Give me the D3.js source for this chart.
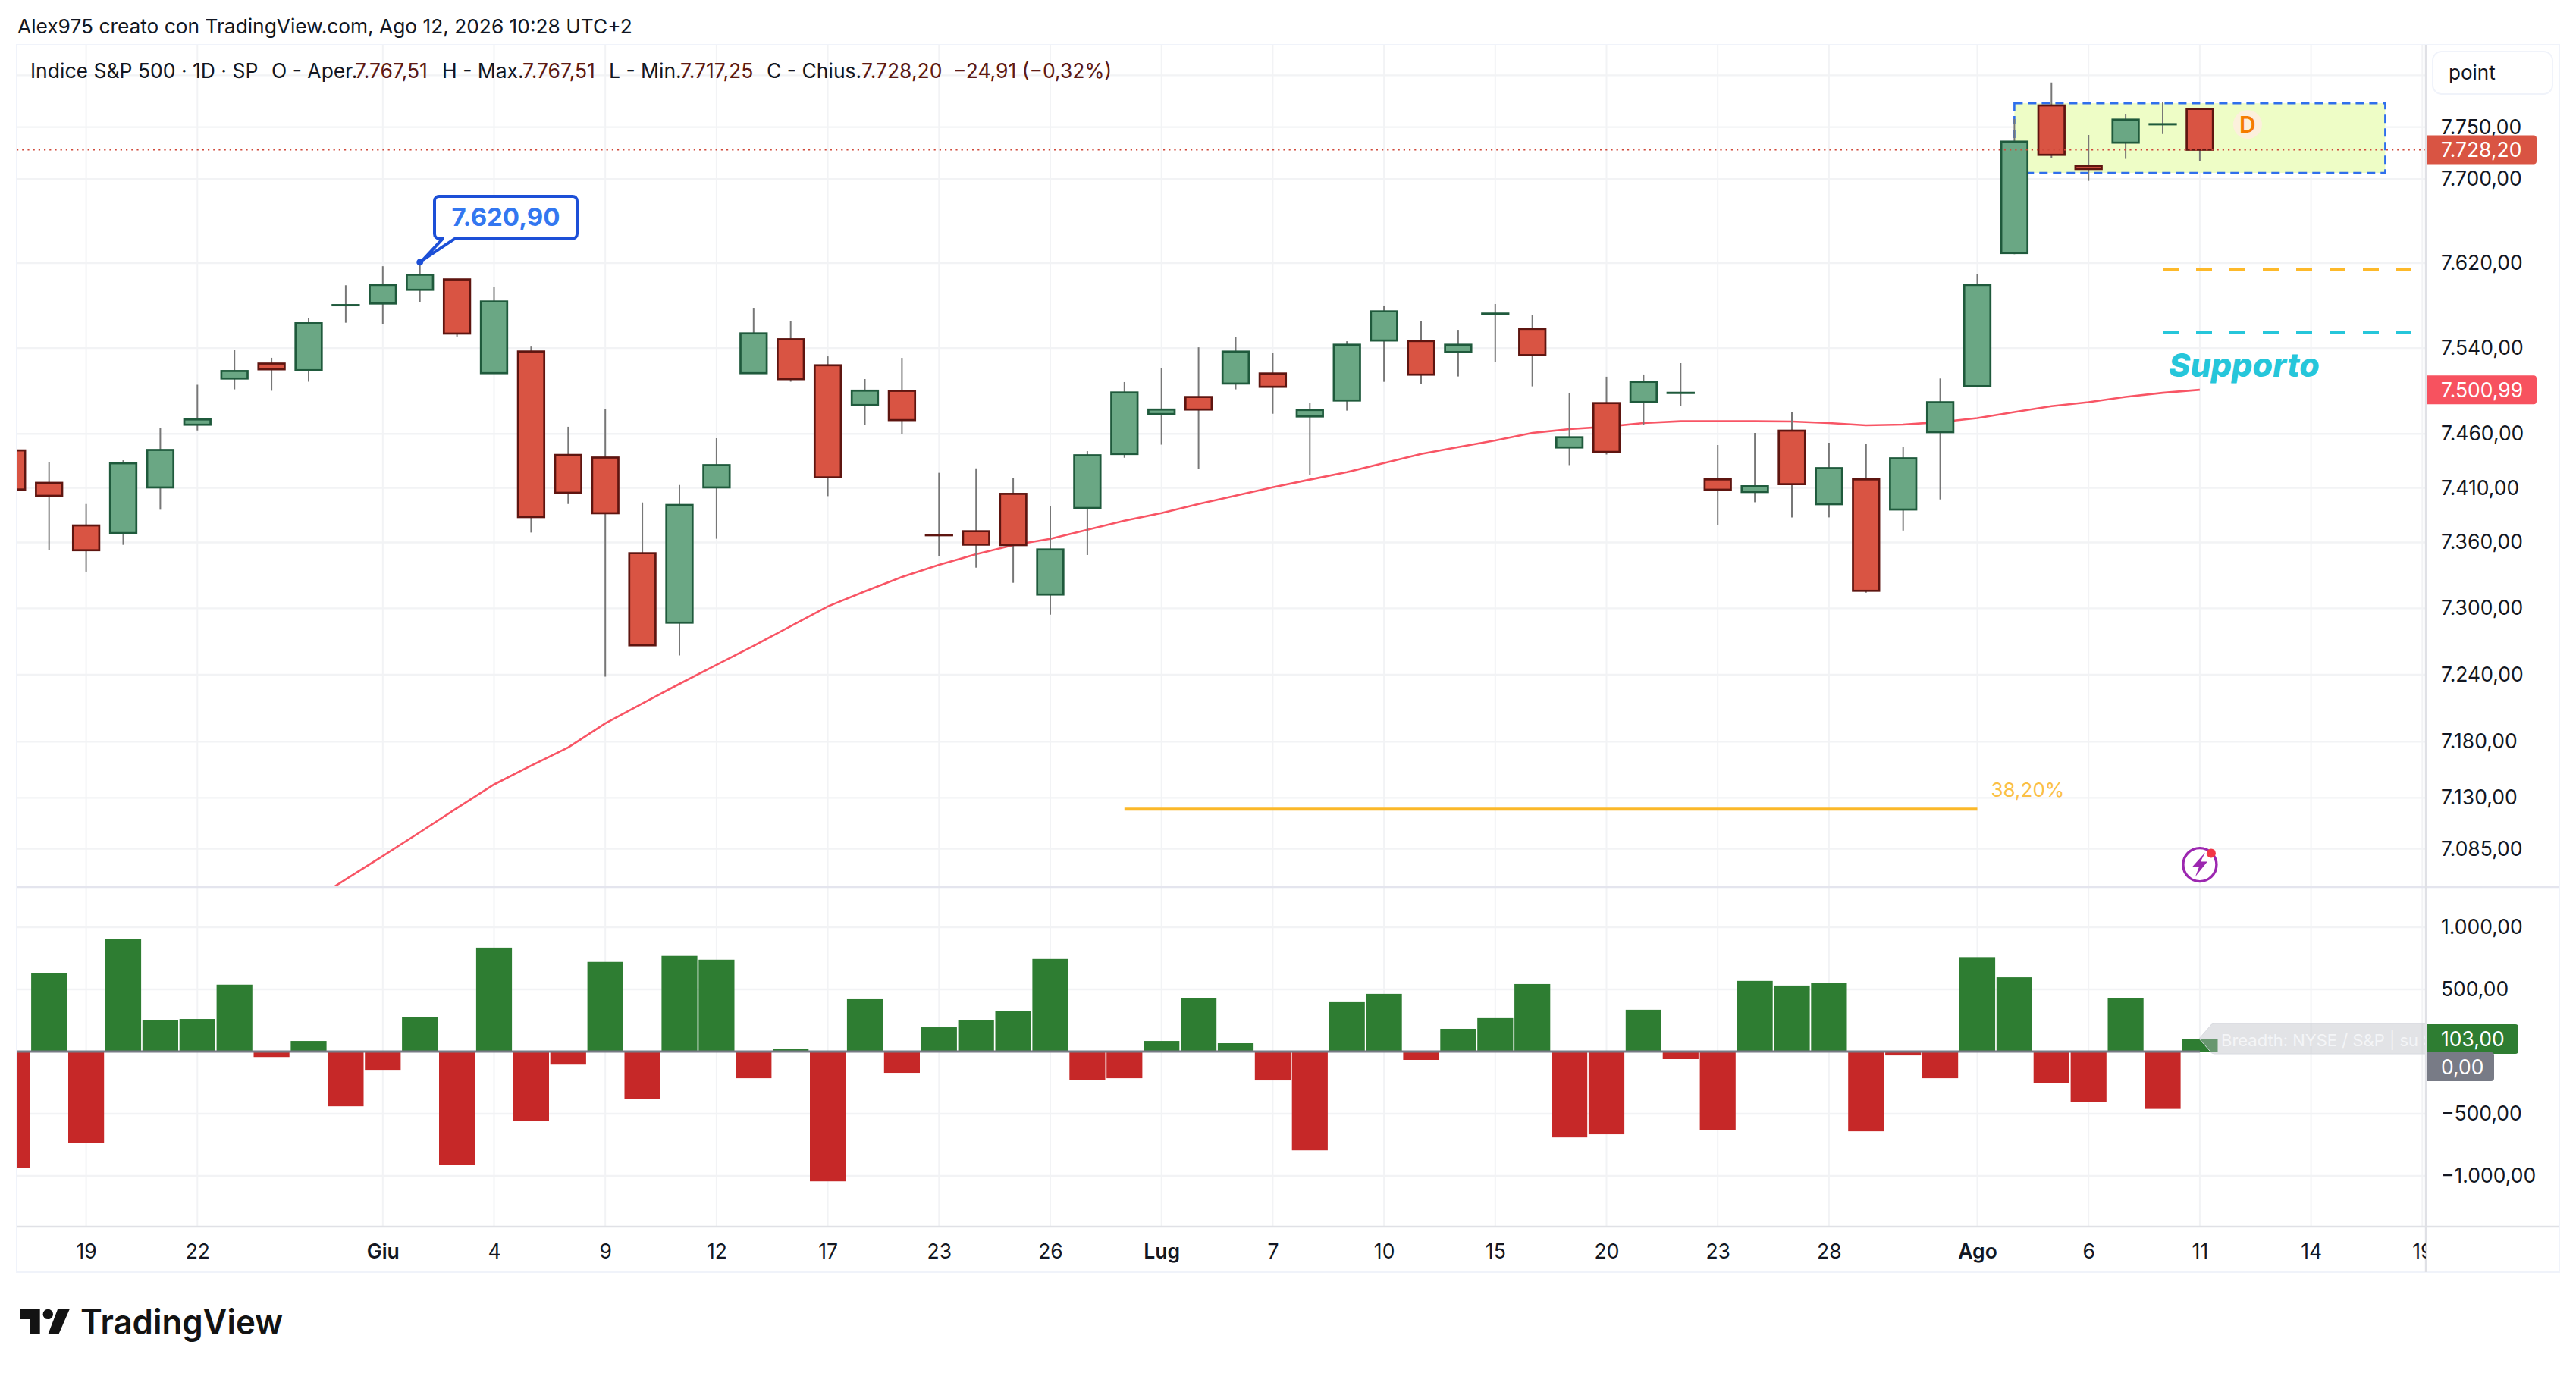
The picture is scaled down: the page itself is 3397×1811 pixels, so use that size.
<!DOCTYPE html>
<html>
<head>
<meta charset="utf-8">
<title>Indice S&P 500</title>
<script src="https://cdnjs.cloudflare.com/ajax/libs/d3/7.8.5/d3.min.js"></script>
<style>
  html, body { margin: 0; padding: 0; background: #fff; }
  svg { display: block; }
  text { font-family: Inter, "Noto Sans", sans-serif; fill: #131722; }
</style>
</head>
<body>
<script>
// values, one entry per daily bar
var openP = [7444.7,7414.7,7375.6,7368.6,7410.5,7468.5,7511.5,7525.5,7519.3,7580.2,
  7581.9,7594.8,7604.6,7516.5,7536.8,7440.5,7438.1,7350.2,7287,7410.5,
  7516.5,7548.3,7523.9,7486.8,7500,7366.8,7370.3,7404.6,7312.5,7391.6,
  7441.4,7478.4,7494.3,7506.8,7516.2,7476.2,7491,7547.1,7546.6,7536.3,
  7572.2,7558,7447.4,7488.6,7489.6,7498,7417.9,7406.3,7463,7395.1,
  7417.9,7390.2,7461.6,7504.4,7629.6,7770.9,7712.7,7735,7752.6,7767.51];
var closeP = [7408.6,7402.8,7352.9,7432.8,7445.1,7473.4,7518.5,7520.1,7563.3,7580.4,
  7599.4,7609,7553.6,7583.8,7383.3,7405.6,7386.8,7266.5,7394.4,7431.1,
  7553.8,7510.9,7419.8,7500.2,7472.8,7366.6,7358,7357.6,7353.6,7440.2,
  7498.5,7482.6,7482.6,7536.7,7503.8,7482.2,7543.1,7574.5,7515.1,7543.1,
  7572.4,7533.4,7456.9,7443.3,7508.4,7498.2,7408.4,7411.6,7413.5,7428.3,
  7315.9,7437.4,7489.4,7599.4,7736,7723.3,7709.7,7757.2,7752.8,7728.2];
var highP = [7450,7433.7,7395.3,7435.6,7465.8,7505.7,7538.6,7530.9,7568.6,7599.1,
  7617.1,7620.9,7604.6,7597.8,7541.4,7466.6,7482.8,7396.7,7412.8,7456,
  7577.8,7565,7532.2,7511,7530.8,7424,7428.1,7419,7393.2,7444,
  7508.2,7521.6,7540.7,7550.7,7535.8,7488.4,7546.4,7580,7565,7557.1,
  7581.4,7570.7,7498.3,7513.2,7515.3,7525.9,7449.7,7460.9,7480.5,7451.8,
  7450.4,7448.3,7511.5,7610,7757.8,7793.1,7742.4,7762.8,7773.9,7767.51];
var lowP = [7400,7352.9,7333.4,7357.8,7390,7463.2,7501.4,7500.1,7508.5,7563.8,
  7562.2,7583,7550.8,7516,7369.1,7395.3,7238.2,7266,7257.3,7363.4,
  7516,7508.5,7402.5,7468.2,7459.7,7347.4,7337,7323.2,7294.3,7348.6,
  7437.9,7450,7427.6,7501.4,7478.7,7422.1,7481.6,7508.4,7506.3,7513.4,
  7526.8,7504.2,7431.1,7440.9,7468.2,7485.8,7376,7396.9,7383,7383,
  7314.2,7370.9,7399.5,7504,7628.5,7720.2,7698.3,7719.4,7743.3,7717.25];

// 50 day average, starts at bar 8 (below the pane until bar 9)
var maStart = 8;
var maValues = [7037.5,7058.1,7078.7,7099.6,7121,7141.9,7158.7,7174.8,7196.4,7214.2,
  7231.8,7248.9,7266,7283.8,7301.7,7315.4,7328.5,7339.6,7349.3,7357.6,
  7363.3,7371.6,7380,7387,7395.3,7403,7410.7,7417.7,7424.6,7433,
  7441.4,7447.7,7453.9,7460.9,7464.4,7466.6,7470.1,7471.7,7471.7,7471.7,
  7471.5,7470.1,7468,7468.7,7470.9,7474.6,7480.3,7485.7,7489.5,7494.4,
  7498.2,7500.99];

var breadth = [-934,628,-733,908,250,262,538,-44,85,-440,
  -147,275,-911,836,-561,-105,721,-378,770,739,
  -214,23,-1044,421,-171,195,250,324,745,-226,
  -214,85,427,67,-232,-794,403,464,-67,183,
  269,543,-690,-665,336,-61,-629,568,531,549,
  -641,-31,-214,760,597,-253,-406,431,-461,103];

var priceTicks = [7750,7700,7620,7540,7460,7410,7360,7300,7240,7180,7130,7085];
var priceGridExtra = [7800];
var breadthTicks = [1000,500,-500,-1000];
var timeIdx = [2,5,10,13,16,19,22,25,28,31,34,37,40,43,46,49,53,56,59,62,65];
var timeLabels = ["19","22","Giu","4","9","12","17","23","26","Lug","7","10","15","20","23","28","Ago","6","11","14","19"];
var monthLabels = ["Giu","Lug","Ago"];

var lastClose = 7728.20, lastMa = 7500.99, lastHigh = 7620.90;
var zone = { from: 54, to: 64, top: 7773, bottom: 7706 };
var levelOrange = 7613.6, levelTeal = 7555.1, levelFrom = 58, levelTo = 64.7;
var fibLevel = 7120, fibFrom = 30, fibTo = 53;

var legendParts = [
  ["Indice S&P 500 · 1D · SP", 40, "#131722"],
  ["O - Aper.", 358, "#131722"], ["7.767,51", 468, "#5e1a13"],
  ["H - Max.", 583, "#131722"], ["7.767,51", 689, "#5e1a13"],
  ["L - Min.", 803, "#131722"], ["7.717,25", 897, "#5e1a13"],
  ["C - Chius.", 1011, "#131722"], ["7.728,20", 1136, "#5e1a13"],
  ["−24,91 (−0,32%)", 1257, "#5e1a13"]
];

var W = 3397, H = 1811;
var left = 22, axisX = 3199, rightEdge = 3375, top0 = 59, paneBottom = 1170, lowerBottom = 1618, timeBottom = 1678;

var it = d3.formatLocale({ decimal: ",", thousands: ".", grouping: [3], currency: ["", ""], minus: "−" });
var fmt = it.format(",.2f");

var x = d3.scaleLinear().domain([0, 65]).range([15.8, 15.8 + 65 * 48.9]);
var yP = d3.scaleLog().domain([7085, 7750]).range([1119.6, 167.6]);
var yB = d3.scaleLinear().domain([-1000, 1000]).range([1551, 1223]);

var svg = d3.select("body").append("svg").attr("width", W).attr("height", H);
svg.append("rect").attr("width", W).attr("height", H).attr("fill", "#fff");

var defs = svg.append("defs");
defs.append("clipPath").attr("id", "pricePane").append("rect")
  .attr("x", left).attr("y", top0).attr("width", axisX - left).attr("height", paneBottom - top0);
defs.append("clipPath").attr("id", "lowerPane").append("rect")
  .attr("x", left).attr("y", paneBottom).attr("width", axisX - left).attr("height", lowerBottom - paneBottom);

var gridColor = "#f2f3f5";

// grid
var grid = svg.append("g");
grid.selectAll(".v").data(timeIdx).enter().append("line")
  .attr("x1", function(d) { return x(d); }).attr("x2", function(d) { return x(d); })
  .attr("y1", top0).attr("y2", lowerBottom)
  .attr("stroke", gridColor).attr("stroke-width", 2);
grid.selectAll(".hp").data(priceTicks.concat(priceGridExtra)).enter().append("line")
  .attr("x1", left).attr("x2", axisX)
  .attr("y1", function(d) { return yP(d); }).attr("y2", function(d) { return yP(d); })
  .attr("stroke", gridColor).attr("stroke-width", 2.4);
grid.selectAll(".hb").data(breadthTicks).enter().append("line")
  .attr("x1", left).attr("x2", axisX)
  .attr("y1", function(d) { return yB(d); }).attr("y2", function(d) { return yB(d); })
  .attr("stroke", gridColor).attr("stroke-width", 2.4);

// price pane
var price = svg.append("g").attr("clip-path", "url(#pricePane)");

price.append("rect")
  .attr("x", x(zone.from)).attr("width", x(zone.to) - x(zone.from))
  .attr("y", yP(zone.top)).attr("height", yP(zone.bottom) - yP(zone.top))
  .attr("fill", "#eefdc6").attr("stroke", "#2f6fec").attr("stroke-width", 2.6)
  .attr("stroke-dasharray", "11 7");

var line = d3.line()
  .x(function(d, i) { return x(i + maStart); })
  .y(function(d) { return yP(d); });
price.append("path").datum(maValues).attr("d", line)
  .attr("fill", "none").attr("stroke", "#f85565").attr("stroke-width", 2.6);

var idx = d3.range(openP.length);
price.selectAll(".wick").data(idx).enter().append("line")
  .attr("x1", function(i) { return x(i); }).attr("x2", function(i) { return x(i); })
  .attr("y1", function(i) { return yP(highP[i]); }).attr("y2", function(i) { return yP(lowP[i]); })
  .attr("stroke", "#777777").attr("stroke-width", 2);

price.selectAll(".body").data(idx).enter().append("rect")
  .attr("x", function(i) { return x(i) - 17.3; })
  .attr("width", 34.6)
  .attr("y", function(i) { return yP(Math.max(openP[i], closeP[i])); })
  .attr("height", function(i) { return Math.abs(yP(openP[i]) - yP(closeP[i])); })
  .attr("fill", function(i) { return closeP[i] >= openP[i] ? "#6aa784" : "#d95443"; })
  .attr("stroke", function(i) { return closeP[i] >= openP[i] ? "#1f5a3c" : "#5e1510"; })
  .attr("stroke-width", 2.7);

// last price dotted line
price.append("line")
  .attr("x1", left).attr("x2", axisX)
  .attr("y1", yP(lastClose)).attr("y2", yP(lastClose))
  .attr("stroke", "#d0493a").attr("stroke-width", 2.2).attr("stroke-dasharray", "2.2 5");

// drawn levels
function level(v, a, b, color, dash) {
  var l = price.append("line")
    .attr("x1", x(a)).attr("x2", x(b))
    .attr("y1", yP(v)).attr("y2", yP(v))
    .attr("stroke", color).attr("stroke-width", 4);
  if (dash) l.attr("stroke-dasharray", dash);
}
level(levelOrange, levelFrom, levelTo, "#fdb92a", "21 23");
level(levelTeal, levelFrom, levelTo, "#26c6da", "21 23");
level(fibLevel, fibFrom, fibTo, "#fbb829");

price.append("text").attr("x", x(fibTo) + 18).attr("y", yP(fibLevel) - 16)
  .attr("font-size", 26).style("fill", "#fbbf45").text("38,20%");

price.append("text").attr("x", 2860).attr("y", 497)
  .attr("font-size", 43).attr("font-weight", 800).attr("font-style", "italic")
  .style("fill", "#26c6da").text("Supporto");

// D marker
price.append("ellipse").attr("cx", x(59) + 63).attr("cy", yP(7752.5))
  .attr("rx", 19).attr("ry", 19).attr("fill", "#fcf0dc");
price.append("text").attr("x", x(59) + 63).attr("y", yP(7752.5) + 11)
  .attr("text-anchor", "middle").attr("font-size", 30).attr("font-weight", 600)
  .style("fill", "#f57c00").text("D");

// callout on the high
var cx0 = x(11), cy0 = yP(lastHigh);
var bx0 = 573, bx1 = 761, by0 = 259, by1 = 314.6, r = 6;
var p = d3.path();
p.moveTo(bx0 + r, by0);
p.lineTo(bx1 - r, by0); p.arcTo(bx1, by0, bx1, by0 + r, r);
p.lineTo(bx1, by1 - r); p.arcTo(bx1, by1, bx1 - r, by1, r);
p.lineTo(600, by1); p.lineTo(cx0 + 4, cy0 - 3); p.lineTo(584, by1);
p.lineTo(bx0 + r, by1); p.arcTo(bx0, by1, bx0, by1 - r, r);
p.lineTo(bx0, by0 + r); p.arcTo(bx0, by0, bx0 + r, by0, r);
p.closePath();
price.append("path").attr("d", p.toString())
  .attr("fill", "#fff").attr("stroke", "#1c4fd7").attr("stroke-width", 4).attr("stroke-linejoin", "round");
price.append("circle").attr("cx", cx0).attr("cy", cy0).attr("r", 4.5).attr("fill", "#1c4fd7");
price.append("text").attr("x", (bx0 + bx1) / 2).attr("y", 298)
  .attr("text-anchor", "middle").attr("font-size", 33).attr("font-weight", 700)
  .style("fill", "#3377f0").text(fmt(lastHigh));

// lightning icon
var icon = price.append("g").attr("transform", "translate(" + x(59) + ",1140.6)");
icon.append("circle").attr("r", 22).attr("fill", "#fff").attr("stroke", "#9c27b0").attr("stroke-width", 3.4);
icon.append("path").attr("d", "M7,-16L-10,3L-1,3L-6,16L10,-4L1,-4Z").attr("fill", "#9c27b0");
icon.append("circle").attr("cx", 15).attr("cy", -15).attr("r", 6).attr("fill", "#f23645");

// lower pane
var lower = svg.append("g").attr("clip-path", "url(#lowerPane)");
lower.selectAll(".bar").data(breadth).enter().append("rect")
  .attr("x", function(d, i) { return x(i) - 23.6; })
  .attr("width", 47.2)
  .attr("y", function(d) { return d >= 0 ? yB(d) : yB(0); })
  .attr("height", function(d) { return Math.abs(yB(d) - yB(0)); })
  .attr("fill", function(d) { return d >= 0 ? "#2e7d32" : "#c62828"; });
lower.append("line")
  .attr("x1", left).attr("x2", x(breadth.length - 1))
  .attr("y1", yB(0)).attr("y2", yB(0))
  .attr("stroke", "#787b86").attr("stroke-width", 3);

// breadth name tag
var tag = svg.append("g");
tag.append("path")
  .attr("d", "M2900,1370L2914,1354Q2916,1350 2920,1350L" + axisX + ",1350L" + axisX + ",1390L2920,1390Q2916,1390 2914,1386Z")
  .attr("fill", "#b9bcc4").attr("fill-opacity", 0.42).attr("stroke", "#d8dae0").attr("stroke-width", 1);
tag.append("text").attr("x", 2929).attr("y", 1380).attr("font-size", 22)
  .attr("clip-path", "url(#lowerPane)").style("fill", "#f4f5f7")
  .text("Breadth: NYSE / S&P | su S");

// frame and separators
var frame = svg.append("g").attr("fill", "none");
frame.append("rect").attr("x", left).attr("y", top0).attr("width", rightEdge - left).attr("height", timeBottom - top0)
  .attr("stroke", "#f0f3fa").attr("stroke-width", 2);
frame.append("line").attr("x1", left).attr("x2", rightEdge).attr("y1", paneBottom).attr("y2", paneBottom)
  .attr("stroke", "#e4e5ee").attr("stroke-width", 2.6);
frame.append("line").attr("x1", left).attr("x2", rightEdge).attr("y1", lowerBottom).attr("y2", lowerBottom)
  .attr("stroke", "#e0e1e6").attr("stroke-width", 2.6);
frame.append("line").attr("x1", axisX).attr("x2", axisX).attr("y1", top0).attr("y2", timeBottom)
  .attr("stroke", "#e0e1e6").attr("stroke-width", 2.4);

// axes
var axisSize = 26.5;
defs.append("clipPath").attr("id", "timeClip").append("rect")
  .attr("x", left).attr("y", 0).attr("width", axisX - left).attr("height", timeBottom - lowerBottom);
var axP = svg.append("g").attr("transform", "translate(" + axisX + ",0)")
  .call(d3.axisRight(yP).tickValues(priceTicks).tickSize(0).tickPadding(20).tickFormat(fmt));
var axB = svg.append("g").attr("transform", "translate(" + axisX + ",0)")
  .call(d3.axisRight(yB).tickValues(breadthTicks).tickSize(0).tickPadding(20).tickFormat(fmt));
var axT = svg.append("g").attr("transform", "translate(0," + lowerBottom + ")").attr("clip-path", "url(#timeClip)")
  .call(d3.axisBottom(x).tickValues(timeIdx).tickSize(0).tickPadding(23)
    .tickFormat(function(d) { return timeLabels[timeIdx.indexOf(d)]; }));
[axP, axB, axT].forEach(function(a) {
  a.attr("font-family", null).attr("font-size", null);
  a.select(".domain").remove();
  a.selectAll("text").attr("font-size", axisSize);
});
axT.selectAll("text").attr("font-weight", function() {
  return monthLabels.indexOf(d3.select(this).text()) >= 0 ? 600 : 400;
});

// value labels on the right
function valueLabel(y0, y1, w, color, txt) {
  svg.append("path")
    .attr("d", "M" + (axisX + 2) + "," + y0 + "L" + (axisX + 2 + w - 4) + "," + y0 + "Q" + (axisX + 2 + w) + "," + y0 + " " + (axisX + 2 + w) + "," + (y0 + 4)
      + "L" + (axisX + 2 + w) + "," + (y1 - 4) + "Q" + (axisX + 2 + w) + "," + y1 + " " + (axisX + 2 + w - 4) + "," + y1 + "L" + (axisX + 2) + "," + y1 + "Z")
    .attr("fill", color);
  svg.append("text").attr("x", axisX + 20).attr("y", (y0 + y1) / 2 + 9.5)
    .attr("font-size", axisSize).style("fill", "#fff").text(txt);
}
valueLabel(yP(lastClose) - 19, yP(lastClose) + 19, 144, "#d95443", fmt(lastClose));
valueLabel(yP(lastMa) - 19, yP(lastMa) + 19, 144, "#f7525f", fmt(lastMa));
valueLabel(yB(breadth[59]) - 19, yB(breadth[59]) + 20, 120, "#2e7d32", fmt(breadth[59]));
valueLabel(yB(0) + 1, yB(0) + 39, 88, "#787b86", fmt(0));

// currency box
svg.append("rect").attr("x", 3208).attr("y", 68).attr("width", 158).attr("height", 56).attr("rx", 12)
  .attr("fill", "#fff").attr("stroke", "#f0f3fa").attr("stroke-width", 2);
svg.append("text").attr("x", 3229).attr("y", 105).attr("font-size", 26).text("point");

// header texts
svg.append("text").attr("x", 23).attr("y", 44).attr("font-size", 26.3)
  .text("Alex975 creato con TradingView.com, Ago 12, 2026 10:28 UTC+2");
svg.append("g").selectAll("text").data(legendParts).enter().append("text")
  .attr("x", function(d) { return d[1]; }).attr("y", 103).attr("font-size", 26.5)
  .style("fill", function(d) { return d[2]; })
  .text(function(d) { return d[0]; });

// logo
var logo = svg.append("g").attr("fill", "#131313");
logo.append("path").attr("d", "M26,1727L52.7,1727L52.7,1760L39.3,1760L39.3,1740L26,1740Z");
logo.append("circle").attr("cx", 63.3).attr("cy", 1733.4).attr("r", 6.7);
logo.append("path").attr("d", "M76,1727L91.7,1727L77.3,1760L63.3,1760Z");
svg.append("text").attr("x", 106).attr("y", 1760).attr("font-size", 46).attr("font-weight", 600)
  .attr("textLength", 267).attr("lengthAdjust", "spacingAndGlyphs")
  .style("fill", "#131313").text("TradingView");
</script>
</body>
</html>
